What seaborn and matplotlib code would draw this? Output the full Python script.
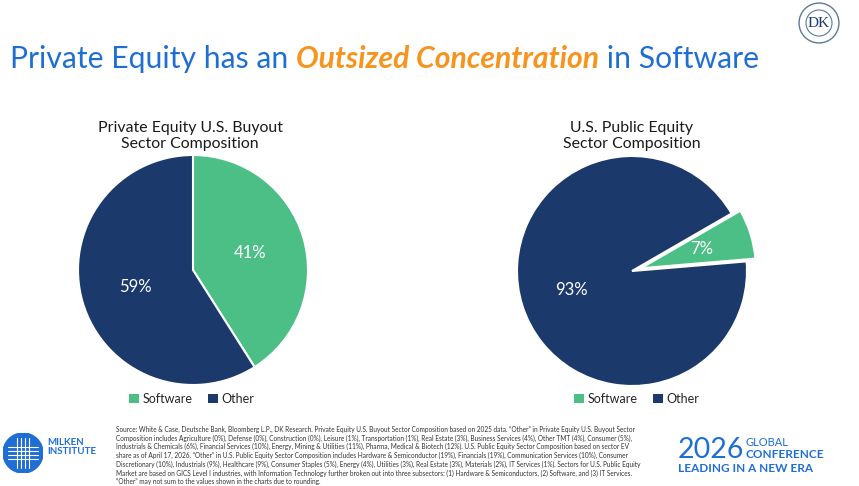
import matplotlib
matplotlib.use("Agg")
import matplotlib.pyplot as plt
import seaborn as sns
import numpy as np
from matplotlib.patches import Circle, Patch

sns.set_theme(style="white")
plt.rcParams['font.family'] = ['Lato', 'DejaVu Sans']

# ---- data ----
sectors = ["Software", "Other"]
pe_values = [41, 59]
public_values = [7, 93]
pe_title = "Private Equity U.S. Buyout\nSector Composition"
public_title = "U.S. Public Equity\nSector Composition"

GREEN = "#4CBF86"
NAVY = "#1B3A6B"
BLUE = "#1F6ED4"
ORANGE = "#F7941D"
colors = [GREEN, NAVY]

W, H = 859, 486
fig = plt.figure(figsize=(W / 100, H / 100), dpi=100)
fig.patch.set_facecolor("white")

LIM = 1.3
R = 115  # pie radius px
def pie_axes(cx, cy):
    size = R * LIM
    return fig.add_axes([(cx - size) / W, 1 - (cy + size) / H, 2 * size / W, 2 * size / H])

# left pie
ax1 = pie_axes(193, 270)
ax1.pie(pe_values, colors=colors, startangle=90, counterclock=False,
        autopct=lambda p: f"{p:.0f}%", pctdistance=0.52,
        wedgeprops=dict(edgecolor="white", linewidth=1.5),
        textprops=dict(color="white", fontsize=12))
ax1.set_xlim(-LIM, LIM); ax1.set_ylim(-LIM, LIM); ax1.set_aspect("equal")
ax1.axis("off")

# right pie
ax2 = pie_axes(632, 271)
ax2.pie(public_values, colors=colors, startangle=30, counterclock=False,
        explode=[0.08, 0], autopct=lambda p: f"{p:.0f}%", pctdistance=0.55,
        wedgeprops=dict(edgecolor="white", linewidth=1.5),
        textprops=dict(color="white", fontsize=12))
ax2.set_xlim(-LIM, LIM); ax2.set_ylim(-LIM, LIM); ax2.set_aspect("equal")
ax2.axis("off")

# subtitles
fig.text(190 / W, 1 - 136 / H, pe_title, ha="center", va="center", fontsize=11.4,
         color="#1a1a1a", linespacing=1.1)
fig.text(632 / W, 1 - 136 / H, public_title, ha="center", va="center", fontsize=11.4,
         color="#1a1a1a", linespacing=1.1)

# legends
handles = [Patch(facecolor=c, edgecolor="none") for c in colors]
for cx in (192, 637):
    fig.legend(handles, sectors, loc="center", bbox_to_anchor=(cx / W, 1 - 399 / H),
               ncol=2, frameon=False, fontsize=9, handlelength=0.8, handleheight=0.8,
               handletextpad=0.3, columnspacing=1.2)

# main title (multicolour, measured piecewise)
renderer = fig.canvas.get_renderer()
parts = [("Private Equity has an ", BLUE, "normal"),
         ("Outsized Concentration", ORANGE, "italic"),
         (" in Software", BLUE, "normal")]
x = 10
for s, c, st in parts:
    tt = fig.text(x / W, 1 - 59 / H, s, fontsize=21.7, color=c, ha="left", va="center",
                  style=st, fontweight="bold" if st == "italic" else "normal")
    bb = tt.get_window_extent(renderer=renderer)
    x += bb.width

# DK logo
axl = fig.add_axes([798 / W, 1 - 44 / H, 42 / W, 42 / H])
axl.set_xlim(-1, 1); axl.set_ylim(-1, 1); axl.set_aspect("equal"); axl.axis("off")
axl.add_patch(Circle((0, 0), 0.95, fill=False, ec="#5a7a99", lw=1))
axl.add_patch(Circle((0, 0), 0.62, fill=False, ec="#5a7a99", lw=0.8))
axl.text(0, 0, "DK", ha="center", va="center", fontsize=11, color="#1B3A6B",
         family=["Liberation Serif", "DejaVu Serif"])

# Milken logo
axm = fig.add_axes([3 / W, 1 - 473 / H, 40 / W, 40 / H])
axm.set_xlim(-1, 1); axm.set_ylim(-1, 1); axm.set_aspect("equal"); axm.axis("off")
axm.add_patch(Circle((0, 0), 1, color="#1F6ED4"))
for v in (-0.3, -0.1, 0.1, 0.3):
    axm.plot([v, v], [-0.75, 0.75], color="white", lw=0.8)
    axm.plot([-0.75, 0.75], [v, v], color="white", lw=0.8)
fig.text(47 / W, 1 - 447 / H, "MILKEN\nINSTITUTE", fontsize=7, fontweight="bold",
         color="#1F6ED4", ha="left", va="center", linespacing=1.0)

# 2026 conference
fig.text(678 / W, 1 - 450 / H, "2026", fontsize=20.5, color="#1F6ED4", ha="left", va="center")
fig.text(745 / W, 1 - 442 / H, "GLOBAL", fontsize=8, color="#1F6ED4", ha="left", va="center")
fig.text(745 / W, 1 - 454 / H, "CONFERENCE", fontsize=8.5, fontweight="bold",
         color="#1F6ED4", ha="left", va="center")
fig.text(678 / W, 1 - 468 / H, "LEADING IN A NEW ERA", fontsize=8.5, fontweight="bold",
         color="#1F6ED4", ha="left", va="center")

# source note
note = ("Source: White & Case, Deutsche Bank, Bloomberg L.P., DK Research. Private Equity U.S. Buyout Sector Composition based on 2025 data. \u201cOther\u201d in Private Equity U.S. Buyout Sector\n"
        "Composition includes Agriculture (0%), Defense (0%), Construction (0%), Leisure (1%), Transportation (1%), Real Estate (3%), Business Services (4%), Other TMT (4%), Consumer (5%),\n"
        "Industrials & Chemicals (6%), Financial Services (10%), Energy, Mining & Utilities (11%), Pharma, Medical & Biotech (12%). U.S. Public Equity Sector Composition based on sector EV\n"
        "share as of April 17, 2026. \u201cOther\u201d in U.S. Public Equity Sector Composition includes Hardware & Semiconductor (19%), Financials (19%), Communication Services (10%), Consumer\n"
        "Discretionary (10%), Industrials (9%), Healthcare (9%), Consumer Staples (5%), Energy (4%), Utilities (3%), Real Estate (3%), Materials (2%), IT Services (1%). Sectors for U.S. Public Equity\n"
        "Market are based on GICS Level I industries, with Information Technology further broken out into three subsectors: (1) Hardware & Semiconductors, (2) Software, and (3) IT Services.\n"
        "\u201cOther\u201d may not sum to the values shown in the charts due to rounding.")
fig.text(116 / W, 1 - 426 / H, note, fontsize=4.7, color="#333333", ha="left", va="top",
         linespacing=1.25)

fig.savefig("out.png", dpi=100, facecolor="white")
